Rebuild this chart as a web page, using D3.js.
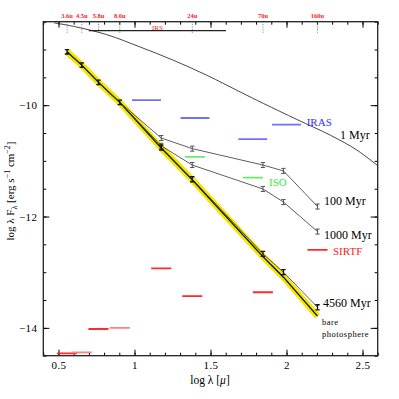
<!DOCTYPE html>
<html>
<head>
<meta charset="utf-8">
<script src="https://cdn.jsdelivr.net/npm/d3@7"></script>
<style>
  html, body { margin: 0; padding: 0; background: #fff; }
  svg { display: block; }
  text { font-family: "Liberation Serif", "DejaVu Serif", serif; }
</style>
</head>
<body>
<svg id="chart" width="399" height="399"></svg>
<script>
// ---------------- DATA ----------------
// log wavelength (micron) of the model photometry points
const logLam = [0.556, 0.653, 0.763, 0.903, 1.176, 1.380, 1.845, 1.980, 2.204];
const myr100  = [-9.04, -9.28, -9.59, -9.95, -10.59, -10.78, -11.075, -11.18, -11.82];
const myr1000 = [-9.04, -9.28, -9.59, -9.95, -10.73, -11.075, -11.505, -11.74, -12.27];
const myr4560 = [-9.04, -9.28, -9.59, -9.95, -10.76, -11.33, -12.67, -13.00, -13.63];
const photosphere = [-9.04, -9.28, -9.59, -9.95, -10.77, -11.34, -12.72, -13.09, -13.79];
const errDex = [0.04, 0.04, 0.04, 0.04, 0.045, 0.045, 0.045, 0.045, 0.045];

// 1 Myr model (smooth curve)
const myr1X = [0.47, 0.599, 0.818, 1.0375, 1.257, 1.476, 1.695, 1.849, 2.068, 2.288, 2.463, 2.62];
const myr1Y = [-8.52, -8.584, -8.733, -8.955, -9.194, -9.462, -9.762, -9.970, -10.256, -10.538, -10.806, -11.13];

// instrument sensitivity limits: band centre (log micron), limit (log lam F_lam)
const irasX  = [1.079, 1.398, 1.778, 2.000];
const irasY  = [-9.91, -10.23, -10.61, -10.35];
const isoX   = [1.398, 1.778];
const isoY   = [-10.93, -11.30];
const sirtfX = [0.556, 0.653, 0.763, 0.903, 1.176, 1.380, 1.845, 2.204];
const sirtfY = [-14.46, -14.44, -14.02, -14.00, -12.93, -13.43, -13.36, -12.60];

// IRS spectral coverage (log micron) and level
const irsRange = [0.699, 1.602];
const irsLevel = -8.66;

// top-axis band labels (micron)
const topBandLabels = ["3.6u", "4.5u", "5.8u", "8.0u", "24u", "70u", "160u"];
const topBandLam = [3.6, 4.5, 5.8, 8.0, 24, 70, 160];

// axis ticks
const xMajor = [0.5, 1, 1.5, 2, 2.5];
const xMajorLabels = ["0.5", "1", "1.5", "2", "2.5"];
const yMajor = [-14, -12, -10];
const yMajorLabels = ["\u221214", "\u221212", "\u221210"];

// ---------------- STYLE / LAYOUT ----------------
const irasHalf = 0.095, isoHalf = 0.066, sirtfHalf = 0.066;
const sirtfLight = [false, true, false, true, false, false, false, false];

const svg = d3.select("#chart");
const L = 43.3, R = 377.7, T = 21.7, B = 355.7;
const x = d3.scaleLinear().domain([0.4, 2.6]).range([L, R]);
const y = d3.scaleLinear().domain([-14.5, -8.5]).range([B, T]);

svg.append("defs").append("clipPath").attr("id", "clip")
  .append("rect").attr("x", L).attr("y", T).attr("width", R - L).attr("height", B - T);

// ---- axes ----
const xMinorVals = d3.range(4, 27).map(d => d / 10);
const yMinorVals = d3.range(-29, -16).map(d => d / 2);

function styleAxis(g) {
  g.select(".domain").remove();
  g.selectAll(".tick line").attr("stroke", "#000").attr("stroke-width", 1);
  g.selectAll(".tick text").attr("fill", "#000").attr("font-size", 11)
    .attr("letter-spacing", 0.4)
    .attr("font-family", "'Liberation Serif', serif");
}
// bottom
svg.append("g").attr("transform", `translate(0,${B})`)
  .call(d3.axisBottom(x).tickValues(xMinorVals).tickSizeInner(-3).tickSizeOuter(0).tickFormat(""))
  .call(styleAxis);
svg.append("g").attr("transform", `translate(0,${B})`)
  .call(d3.axisBottom(x).tickValues(xMajor).tickSizeInner(-6).tickSizeOuter(0).tickPadding(6)
    .tickFormat((d, i) => xMajorLabels[i]))
  .call(styleAxis);
// top
svg.append("g").attr("transform", `translate(0,${T})`)
  .call(d3.axisTop(x).tickValues(xMinorVals).tickSizeInner(-3).tickSizeOuter(0).tickFormat(""))
  .call(styleAxis);
svg.append("g").attr("transform", `translate(0,${T})`)
  .call(d3.axisTop(x).tickValues(xMajor).tickSizeInner(-6).tickSizeOuter(0).tickFormat(""))
  .call(styleAxis);
// left
svg.append("g").attr("transform", `translate(${L},0)`)
  .call(d3.axisLeft(y).tickValues(yMinorVals).tickSizeInner(-3).tickSizeOuter(0).tickFormat(""))
  .call(styleAxis);
svg.append("g").attr("transform", `translate(${L},0)`)
  .call(d3.axisLeft(y).tickValues(yMajor).tickSizeInner(-6).tickSizeOuter(0).tickPadding(6)
    .tickFormat((d, i) => yMajorLabels[i]))
  .call(styleAxis);
// right
svg.append("g").attr("transform", `translate(${R},0)`)
  .call(d3.axisRight(y).tickValues(yMinorVals).tickSizeInner(-3).tickSizeOuter(0).tickFormat(""))
  .call(styleAxis);
svg.append("g").attr("transform", `translate(${R},0)`)
  .call(d3.axisRight(y).tickValues(yMajor).tickSizeInner(-7).tickSizeOuter(0).tickFormat(""))
  .call(styleAxis);

// frame
svg.append("rect").attr("x", L).attr("y", T).attr("width", R - L).attr("height", B - T)
  .attr("fill", "none").attr("stroke", "#222").attr("stroke-width", 1.3);

const plot = svg.append("g").attr("clip-path", "url(#clip)");

// ---- top band labels + dotted markers ----
const topG = svg.append("g");
topBandLam.forEach((lam, i) => {
  const px = x(Math.log10(lam));
  topG.append("line").attr("x1", px).attr("x2", px).attr("y1", T).attr("y2", T + 11)
    .attr("stroke", "#555").attr("stroke-width", 0.8).attr("stroke-dasharray", "1,1.5");
  topG.append("text").attr("x", px).attr("y", T - 3.5).attr("text-anchor", "middle")
    .attr("font-size", 6.5).attr("font-weight", "bold").attr("fill", "#ff2020")
    .attr("font-family", "'Liberation Sans', sans-serif")
    .text(topBandLabels[i]);
});

// IRS range
svg.append("line").attr("x1", x(irsRange[0])).attr("x2", x(irsRange[1]))
  .attr("y1", y(irsLevel)).attr("y2", y(irsLevel)).attr("stroke", "#222").attr("stroke-width", 1.1);
svg.append("text").attr("x", x(d3.mean(irsRange))).attr("y", y(irsLevel) - 0.8)
  .attr("text-anchor", "middle").attr("font-size", 7).attr("fill", "#ff2020")
  .attr("font-family", "'Liberation Sans', sans-serif").text("IRS");

// ---- 1 Myr curve ----
const line1 = d3.line().x((d, i) => x(myr1X[i])).y(d => y(d)).curve(d3.curveCatmullRom);
plot.append("path").datum(myr1Y).attr("d", line1)
  .attr("fill", "none").attr("stroke", "#333").attr("stroke-width", 0.9);

// ---- instrument limits ----
function bars(xs, ys, half, color, lightFlags) {
  plot.append("g").selectAll("line").data(ys).join("line")
    .attr("x1", (d, i) => x(xs[i] - half)).attr("x2", (d, i) => x(xs[i] + half))
    .attr("y1", d => y(d)).attr("y2", d => y(d))
    .attr("stroke", (d, i) => lightFlags && lightFlags[i] ? "#ff8080" : color)
    .attr("stroke-width", 1.8);
}
bars(irasX, irasY, irasHalf, "#7070ff");
bars(isoX, isoY, isoHalf, "#66ee66");
bars(sirtfX, sirtfY, sirtfHalf, "#ff2a2a", sirtfLight);

// ---- photosphere band ----
const lineS = d3.line().x((d, i) => x(logLam[i])).y(d => y(d));
plot.append("path").datum(photosphere).attr("d", lineS)
  .attr("fill", "none").attr("stroke", "#f2e600").attr("stroke-width", 6.5).attr("stroke-linecap", "butt");
plot.append("path").datum(photosphere).attr("d", lineS)
  .attr("fill", "none").attr("stroke", "#000").attr("stroke-width", 1.2);

// ---- model series ----
[myr100, myr1000, myr4560].forEach(s => {
  plot.append("path").datum(s).attr("d", lineS)
    .attr("fill", "none").attr("stroke", "#333").attr("stroke-width", 0.8);
});

// error bars
function errbars(s, from, color, width) {
  const g = plot.append("g").attr("stroke", color).attr("stroke-width", width);
  s.forEach((v, i) => {
    if (i < from) return;
    const px = x(logLam[i]), y0 = y(v - errDex[i]), y1 = y(v + errDex[i]);
    g.append("line").attr("x1", px).attr("x2", px).attr("y1", y0).attr("y2", y1);
    g.append("line").attr("x1", px - 2.2).attr("x2", px + 2.2).attr("y1", y0).attr("y2", y0);
    g.append("line").attr("x1", px - 2.2).attr("x2", px + 2.2).attr("y1", y1).attr("y2", y1);
  });
}
errbars(myr100, 4, "#444", 0.9);
errbars(myr1000, 4, "#444", 0.9);
errbars(myr4560, 0, "#111", 1.3);

// ---- labels ----
const lab = (t, px, py, size, color) => svg.append("text").attr("x", px).attr("y", py)
  .attr("font-size", size).attr("fill", color).text(t);
lab("1 Myr", 340, 139, 12, "#000");
lab("100 Myr", 324, 204.5, 12, "#000");
lab("1000 Myr", 324, 239, 12, "#000");
lab("4560 Myr", 323, 306.5, 12, "#000");
lab("bare", 322, 325, 8.5, "#000").attr("letter-spacing", 0.5);
lab("photosphere", 322, 336.5, 8.5, "#000").attr("letter-spacing", 0.5);
lab("IRAS", 306.7, 125.5, 11, "#3030ff");
lab("ISO", 269, 185.5, 11, "#33ee33");
lab("SIRTF", 333, 255, 11, "#ff2020");

// axis titles
const xt = svg.append("text").attr("x", 210).attr("y", 384).attr("text-anchor", "middle")
  .attr("font-size", 11.5);
xt.append("tspan").text("log \u03bb [");
xt.append("tspan").attr("font-style", "italic").text("\u03bc");
xt.append("tspan").text("]");

const yt = svg.append("text").attr("transform", "translate(14,191) rotate(-90)")
  .attr("text-anchor", "middle").attr("font-size", 11);
yt.append("tspan").text("log \u03bb F");
yt.append("tspan").attr("font-size", 8).attr("dy", 3).text("\u03bb");
yt.append("tspan").attr("dy", -3).text(" [erg s");
yt.append("tspan").attr("font-size", 8).attr("dy", -4).text("\u22121");
yt.append("tspan").attr("dy", 4).text(" cm");
yt.append("tspan").attr("font-size", 8).attr("dy", -4).text("\u22122");
yt.append("tspan").attr("dy", 4).text("]");
</script>
</body>
</html>
